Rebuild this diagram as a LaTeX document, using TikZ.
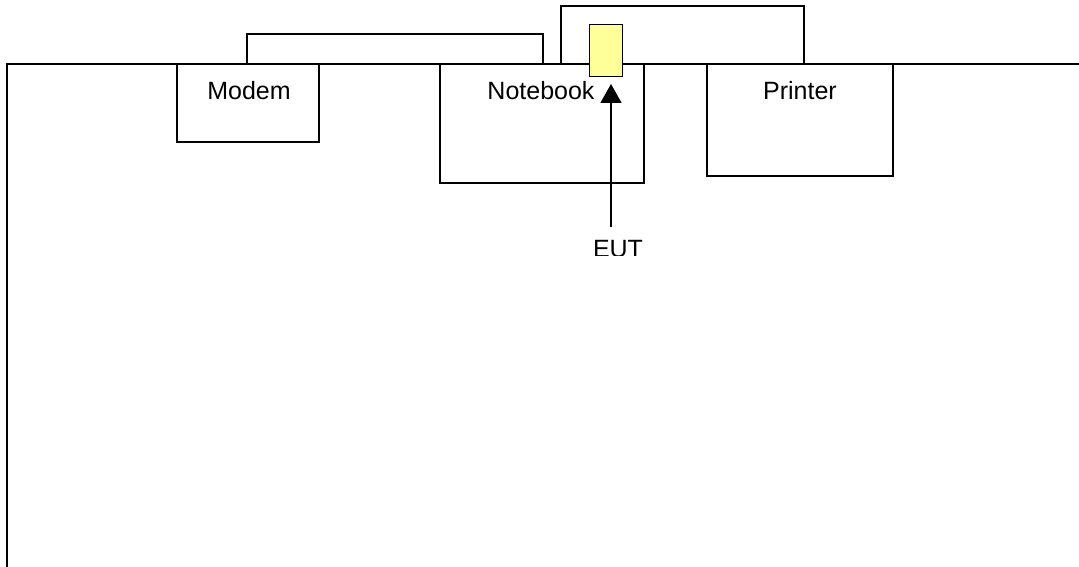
\documentclass[tikz,border=0pt]{standalone}
\usepackage{fontspec}
\setmainfont{Liberation Sans}
\usetikzlibrary{arrows.meta}
\begin{document}
\begin{tikzpicture}[x=1pt,y=-1pt,
  box/.style={draw,line width=1.5pt,inner sep=0pt,outer sep=0pt,anchor=north west},
  lbl/.style={font=\fontsize{25}{30}\selectfont,anchor=base,inner sep=0pt},
  wire/.style={line width=1.5pt}]
\useasboundingbox (0,0) rectangle (1079,567);
% bus line
\coordinate (busR) at (1079,64);
\coordinate (busL) at (7,567);
\draw[wire] (busR) -| (busL);
% boxes
\node[box,minimum width=142pt,minimum height=78pt] (modem) at (177,64) {};
\node[box,minimum width=204pt,minimum height=119pt] (notebook) at (440,64) {};
\node[box,minimum width=186pt,minimum height=112pt] (printer) at (707,64) {};
\node[lbl] (modemT) at (249,100) {Modem};
\node[lbl] (notebookT) at (541,100) {Notebook};
\node[lbl] (printerT) at (800,100) {Printer};
% cables
\coordinate (c1a) at (247,64);
\coordinate (c1b) at (543,64);
\draw[wire] (c1a) -- ++(0,-30) -| (c1b);
\coordinate (c2a) at (561,64);
\coordinate (c2b) at (804,65);
\draw[wire] (c2a) |- (683,6) -| (c2b);
% EUT
\node[draw,line width=1.2pt,fill={rgb,255:red,255;green,255;blue,153},minimum width=33pt,minimum height=52pt,inner sep=0pt,anchor=north west] (eut) at (589,24) {};
\begin{scope}
\clip (560,230) rectangle (680,255);
\node[lbl] (eutT) at (618,257) {EUT};
\end{scope}
\coordinate (arrTip) at (611,84);
\coordinate (arrFoot) at (611,227);
\draw[wire,-{Triangle[length=19pt,width=21pt]}] (arrFoot) -- (arrTip);
\end{tikzpicture}
\end{document}
